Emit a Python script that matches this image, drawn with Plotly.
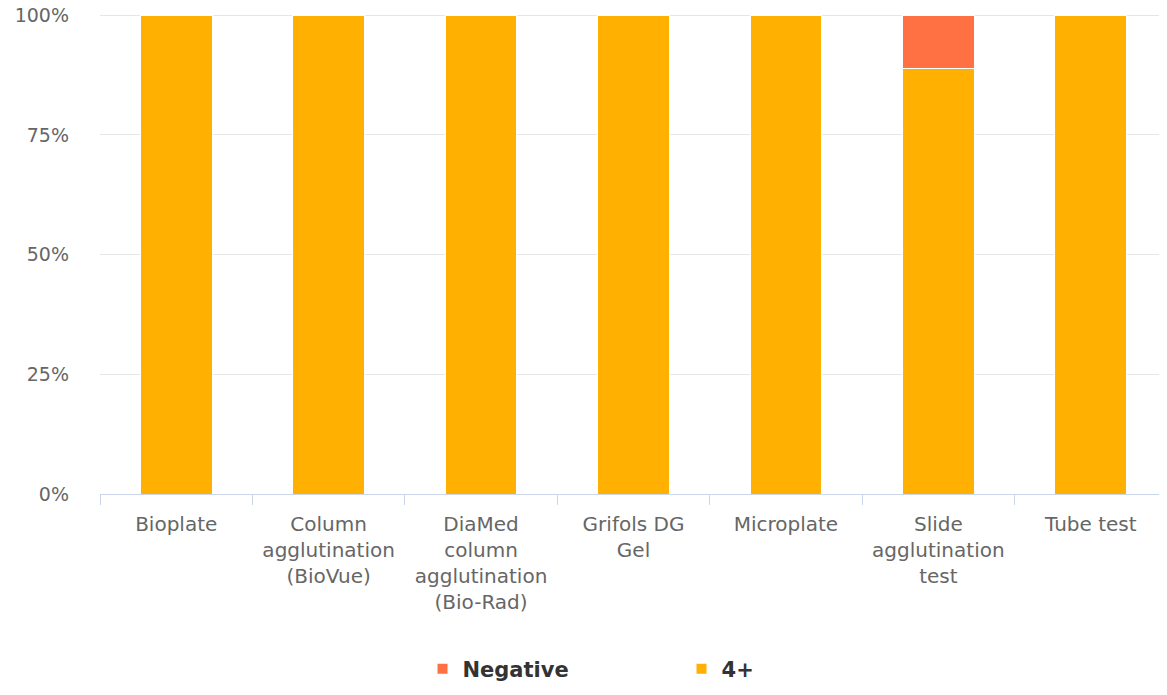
import plotly.graph_objects as go

categories = [
    "Bioplate",
    "Column<br>agglutination<br>(BioVue)",
    "DiaMed<br>column<br>agglutination<br>(Bio-Rad)",
    "Grifols DG<br>Gel",
    "Microplate",
    "Slide<br>agglutination<br>test",
    "Tube test",
]
four_plus = [100, 100, 100, 100, 100, 88.9, 100]
negative = [0, 0, 0, 0, 0, 11.1, 0]
y_tick_vals = [0, 25, 50, 75, 100]
y_tick_text = ["0%", "25%", "50%", "75%", "100%"]

fig = go.Figure()
fig.add_trace(go.Bar(
    x=categories, y=four_plus, name="4+",
    marker=dict(color="#FFB000", line=dict(color="#ffffff", width=1)),
))
fig.add_trace(go.Bar(
    x=categories, y=negative, name="Negative",
    marker=dict(color="#FF7043", line=dict(color="#ffffff", width=1)),
))

fig.update_layout(
    width=1167, height=695,
    barmode="stack",
    bargap=0.53,
    plot_bgcolor="white",
    paper_bgcolor="white",
    margin=dict(l=92, r=8, t=6, b=209, autoexpand=False),
    font=dict(family="DejaVu Sans", size=20, color="#666666"),
    showlegend=True,
    legend=dict(
        orientation="h",
        traceorder="reversed",
        x=0.545, xanchor="center",
        y=-0.365, yanchor="middle",
        font=dict(family="DejaVu Sans", size=21, color="#333333", weight="bold"),
        entrywidth=214,
        itemsizing="constant",
    ),
)
fig.update_xaxes(
    type="category",
    automargin=False,
    showline=True, linecolor="#ccd6eb", linewidth=1,
    ticks="outside", tickson="boundaries", ticklen=10, tickcolor="#ccd6eb",
    ticklabelstandoff=12,
    tickfont=dict(family="DejaVu Sans", size=20, color="#666666"),
    showgrid=False,
)
fig.update_yaxes(
    range=[0, 100.25],
    automargin=False,
    tickmode="array",
    tickvals=y_tick_vals,
    ticktext=y_tick_text,
    ticklabeloverflow="allow",
    gridcolor="#e6e6e6", gridwidth=1,
    zeroline=False,
    showline=False,
    ticks="",
    ticklabelstandoff=30,
    tickfont=dict(family="DejaVu Sans", size=19, color="#666666"),
)

fig.write_html("out.html")
